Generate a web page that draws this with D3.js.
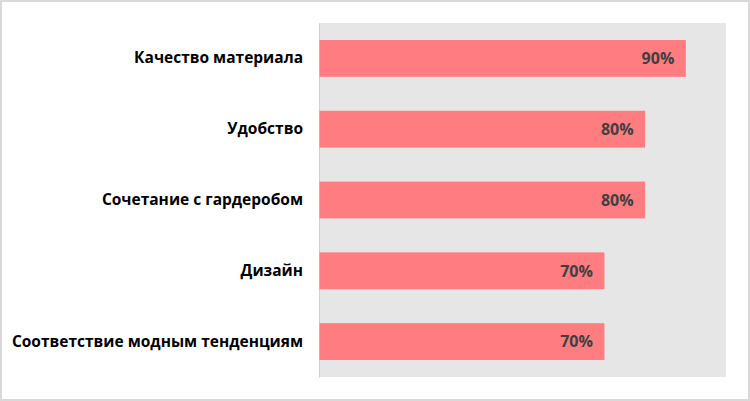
<!DOCTYPE html>
<html>
<head>
<meta charset="utf-8">
<script src="https://cdn.jsdelivr.net/npm/d3@7"></script>
<style>
  body { margin: 0; background: #fff; }
  svg { display: block; }
</style>
</head>
<body>
<div id="chart"></div>
<script>
var svgWidth = 750;
var svgHeight = 401;

// Data
var categories = ["Качество материала", "Удобство", "Сочетание с гардеробом", "Дизайн", "Соответствие модным тенденциям"];
var values = [0.9, 0.8, 0.8, 0.7, 0.7];

var margin = { top: 23, right: 24, bottom: 24, left: 319 };
var width = svgWidth - margin.left - margin.right;
var height = svgHeight - margin.top - margin.bottom;

var svg = d3.select("#chart")
  .append("svg")
  .attr("width", svgWidth)
  .attr("height", svgHeight);

// outer frame
svg.append("rect")
  .attr("x", 1)
  .attr("y", 1)
  .attr("width", svgWidth - 2)
  .attr("height", svgHeight - 2)
  .attr("fill", "#fff")
  .attr("stroke", "#d9d9d9")
  .attr("stroke-width", 2);

var chart = svg.append("g")
  .attr("transform", `translate(${margin.left}, ${margin.top})`);

var x = d3.scaleLinear()
  .domain([0, 1])
  .range([0, width]);

var y = d3.scaleBand()
  .domain(categories)
  .range([0, height])
  .paddingInner(0.48)
  .paddingOuter(0.24);

// plot background
chart.append("rect")
  .attr("width", width)
  .attr("height", height)
  .attr("fill", "#e7e6e6");

// left axis
var leftAxis = d3.axisLeft(y).tickSize(0).tickPadding(16);
var gy = chart.append("g").call(leftAxis);
gy.select(".domain").attr("stroke", "#d0cece");
gy.selectAll("text")
  .attr("font-family", "'Open Sans', sans-serif")
  .attr("font-weight", "bold")
  .attr("font-size", "15.5px")
  .attr("fill", "#000");

// bars
chart.append("g")
  .selectAll("rect")
  .data(values)
  .enter()
  .append("rect")
  .attr("x", x(0) + 0.5)
  .attr("y", (d, i) => y(categories[i]))
  .attr("width", d => x(d) - x(0))
  .attr("height", y.bandwidth())
  .attr("fill", "#ff7c80");

// value labels
chart.append("g")
  .selectAll("text")
  .data(values)
  .enter()
  .append("text")
  .text(d => Math.round(d * 100) + "%")
  .attr("x", d => x(d) - 11)
  .attr("y", (d, i) => y(categories[i]) + y.bandwidth() / 2)
  .attr("dy", "0.36em")
  .attr("text-anchor", "end")
  .attr("font-family", "'Open Sans', sans-serif")
  .attr("font-weight", "bold")
  .attr("font-size", "16px")
  .attr("fill", "#404040");
</script>
</body>
</html>
